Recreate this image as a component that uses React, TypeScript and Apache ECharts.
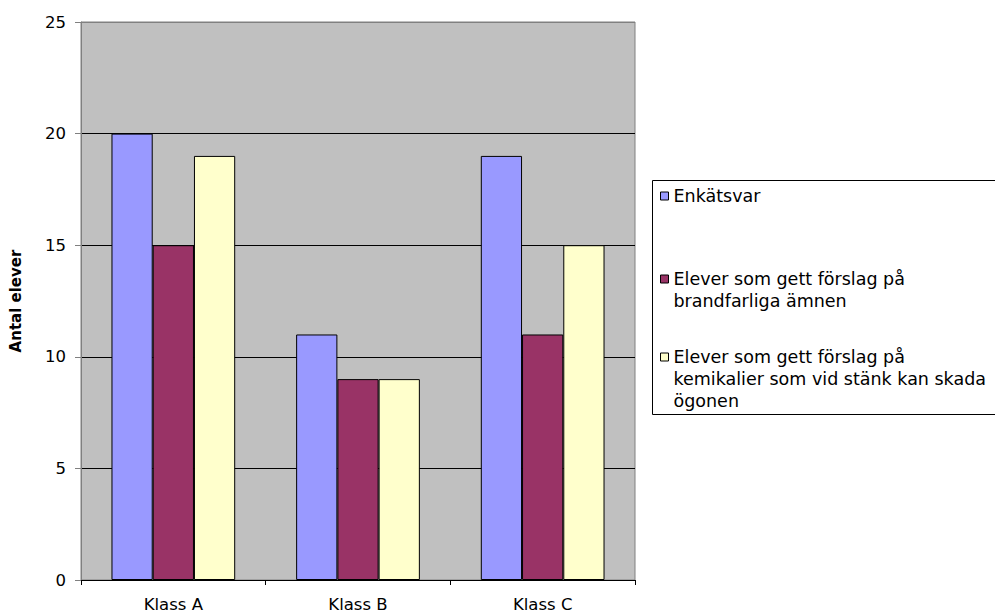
import React, { useEffect, useRef } from "react";
import * as echarts from "echarts";

// Classes on the x axis
const categories = ["Klass A", "Klass B", "Klass C"];

// Series names
const seriesNames = [
  "Enkätsvar",
  "Elever som gett förslag på brandfarliga ämnen",
  "Elever som gett förslag på kemikalier som vid stänk kan skada ögonen",
];

// Legend text, wrapped into lines
const legendLines: string[][] = [
  ["Enkätsvar"],
  ["Elever som gett förslag på", "brandfarliga ämnen"],
  ["Elever som gett förslag på", "kemikalier som vid stänk kan skada", "ögonen"],
];

// Values per series (number of pupils per class)
const enkatsvar = [20, 11, 19];
const brandfarliga = [15, 9, 11];
const kemikalier = [19, 9, 15];

const seriesValues = [enkatsvar, brandfarliga, kemikalier];
const seriesColors = ["#9999FF", "#993366", "#FFFFCC"];

// Y axis range
const yMin = 0;
const yMax = 25;
const yStep = 5;

const FONT = "DejaVu Sans";

export default function App() {
  const ref = useRef<HTMLDivElement>(null);

  useEffect(() => {
    if (!ref.current) return;
    const chart = echarts.init(ref.current, null, { renderer: "svg" });

    const lineHeight = 22;
    const legendCenters = [196, 279, 357];
    // The legend icon sits at the vertical middle of its text block, so
    // blank lines are put above multi-line entries to keep the swatch
    // level with the first line.
    const legends = seriesNames.map((name, i) => {
      const lines = legendLines[i];
      const padded = [...Array(lines.length - 1).fill(""), ...lines];
      const halfBlock = (padded.length * lineHeight) / 2;
      return {
        data: [name],
        orient: "vertical",
        left: 660,
        top: legendCenters[i] - halfBlock,
        padding: 0,
        icon: "rect",
        itemWidth: 8,
        itemHeight: 8,
        selectedMode: false,
        itemStyle: { borderColor: "#000", borderWidth: 1 },
        formatter: () => padded.join("\n"),
        textStyle: {
          fontFamily: FONT,
          fontSize: 17.5,
          lineHeight,
          color: "#000",
        },
      };
    });

    chart.setOption({
      animation: false,
      backgroundColor: "#fff",
      textStyle: { fontFamily: FONT },
      grid: {
        left: 77,
        right: 360,
        top: 22,
        bottom: 36,
        show: true,
        backgroundColor: "#C0C0C0",
        borderColor: "#808080",
        borderWidth: 1,
      },
      graphic: [
        {
          type: "rect",
          z: 0,
          shape: { x: 652.5, y: 180.5, width: 360, height: 234 },
          style: { fill: "#fff", stroke: "#000", lineWidth: 1 },
        },
      ],
      legend: legends,
      xAxis: {
        type: "category",
        data: categories,
        boundaryGap: true,
        axisLine: { show: true, lineStyle: { color: "#000", width: 1 } },
        axisTick: {
          show: true,
          alignWithLabel: false,
          interval: 0,
          length: 5,
          lineStyle: { color: "#000" },
        },
        axisLabel: {
          color: "#000",
          fontFamily: FONT,
          fontSize: 16.5,
          margin: 16,
        },
        splitLine: { show: false },
      },
      yAxis: {
        type: "value",
        min: yMin,
        max: yMax,
        interval: yStep,
        name: "Antal elever",
        nameLocation: "middle",
        nameGap: 58,
        nameRotate: 90,
        nameTextStyle: {
          fontFamily: FONT,
          fontSize: 15,
          fontWeight: "bold",
          color: "#000",
        },
        axisLine: { show: true, lineStyle: { color: "#808080", width: 1 } },
        axisTick: { show: true, length: 6, lineStyle: { color: "#808080" } },
        axisLabel: {
          color: "#000",
          fontFamily: FONT,
          fontSize: 16.5,
          margin: 15,
        },
        splitLine: {
          show: true,
          lineStyle: {
            color: ["#000", "#000", "#000", "#000", "#000", "#808080"],
            width: 1,
          },
        },
      },
      series: seriesNames.map((name, i) => ({
        name,
        type: "bar",
        data: seriesValues[i],
        barGap: "0%",
        barCategoryGap: "33%",
        itemStyle: {
          color: seriesColors[i],
          borderColor: "#000",
          borderWidth: 1,
        },
      })),
    });

    return () => chart.dispose();
  }, []);

  return (
    <div
      ref={ref}
      style={{ position: "absolute", left: 0, top: 0, width: 995, height: 616 }}
    />
  );
}
